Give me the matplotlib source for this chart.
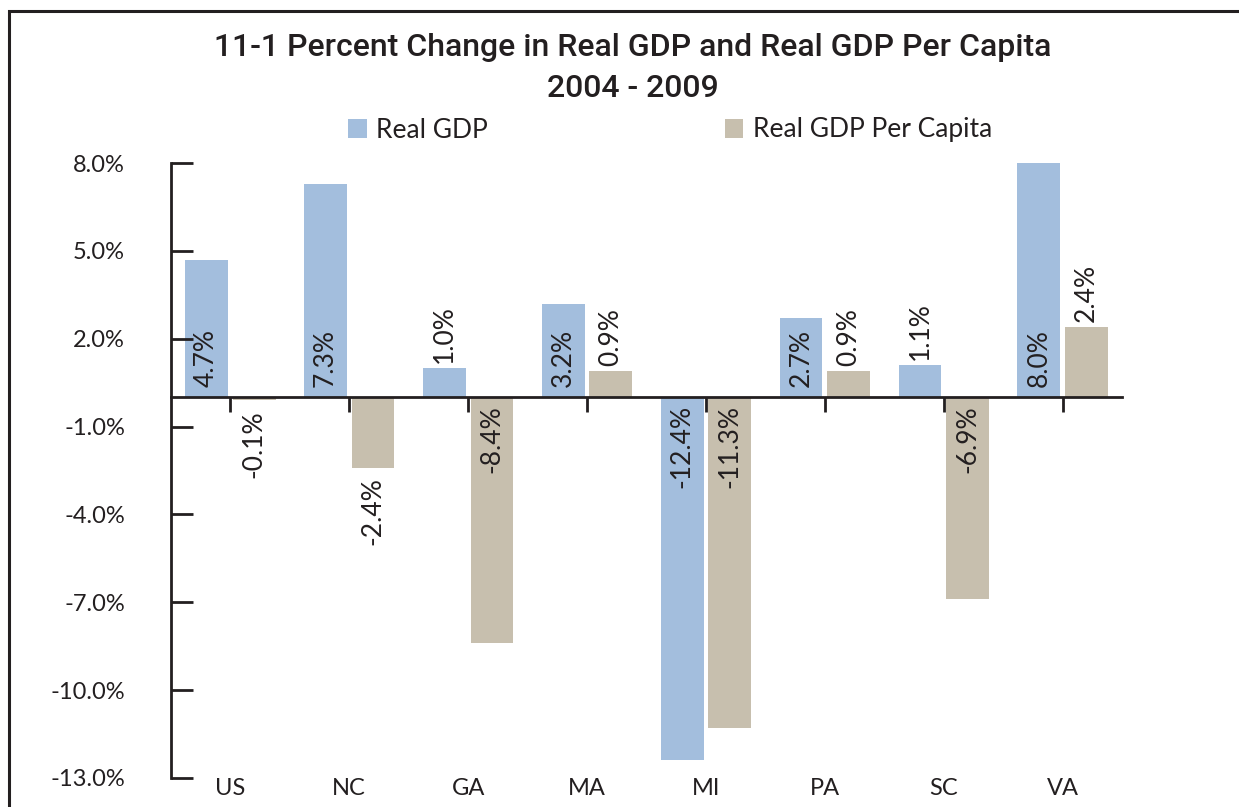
import matplotlib.pyplot as plt
from matplotlib.patches import Rectangle
from matplotlib.ticker import FuncFormatter
import numpy as np

states = ["US", "NC", "GA", "MA", "MI", "PA", "SC", "VA"]
real_gdp = [4.7, 7.3, 1.0, 3.2, -12.4, 2.7, 1.1, 8.0]
per_capita = [-0.1, -2.4, -8.4, 0.9, -11.3, 0.9, -6.9, 2.4]
series_names = ["Real GDP", "Real GDP Per Capita"]
y_ticks = [8.0, 5.0, 2.0, -1.0, -4.0, -7.0, -10.0, -13.0]

blue = "#a3bedd"
tan = "#c7bfae"
ink = "#231f20"

plt.rcParams["font.family"] = ["Lato", "DejaVu Sans"]
plt.rcParams["text.color"] = ink

fig = plt.figure(figsize=(12.39, 8.07), dpi=100)
ax = fig.add_axes([171 / 1239, 1 - 778 / 807, 951 / 1239, 615 / 807])

x = np.arange(len(states))
w = 0.36
off = 0.2

bars1 = ax.bar(x - off, real_gdp, w, color=blue, label=series_names[0])
bars2 = ax.bar(x + off, per_capita, w, color=tan, label=series_names[1])

# value labels: inside base when the bar is long enough, else outside end
for bars, vals in ((bars1, real_gdp), (bars2, per_capita)):
    for b, v in zip(bars, vals):
        cx = b.get_x() + b.get_width() / 2
        if abs(v) >= 2.6:
            anchor = (cx, 0)
            dy = 10 if v > 0 else -8
        else:
            anchor = (cx, v)
            dy = 5 if v > 0 else -10
        ax.annotate(
            f"{v:.1f}%",
            anchor,
            xytext=(0, dy),
            textcoords="offset pixels",
            rotation=90,
            ha="center",
            va="bottom" if v > 0 else "top",
            fontsize=19,
            color=ink,
        )

ax.set_xlim(-0.5, len(states) - 0.5)
ax.set_ylim(-13, 8)
ax.set_yticks(y_ticks)
ax.yaxis.set_major_formatter(FuncFormatter(lambda v, p: f"{v:.1f}%"))

ax.spines["top"].set_visible(False)
ax.spines["right"].set_visible(False)
ax.spines["bottom"].set_position(("data", 0))
for s in ("left", "bottom"):
    ax.spines[s].set_linewidth(2)
    ax.spines[s].set_color(ink)

ax.tick_params(axis="y", direction="in", length=16, width=2, color=ink,
               pad=33, labelsize=17, labelcolor=ink)
ax.set_xticks(x)
ax.set_xticklabels([])
ax.tick_params(axis="x", direction="out", length=11, width=2, color=ink)

for xi, name in zip(x, states):
    ax.annotate(
        name,
        (xi, 0),
        xycoords=ax.get_xaxis_transform(),
        xytext=(0, 0),
        textcoords="offset pixels",
        ha="center",
        va="top",
        fontsize=17,
        color=ink,
    )

fig.text(
    633 / 1239,
    1 - 68 / 807,
    "11-1 Percent Change in Real GDP and Real GDP Per Capita\n2004 - 2009",
    ha="center",
    va="center",
    fontsize=23,
    fontweight="medium",
    family=["Roboto", "Liberation Sans"],
    linespacing=1.5,
)

fig.legend(
    loc="center",
    bbox_to_anchor=(670 / 1239, 1 - 130 / 807),
    ncol=2,
    frameon=False,
    fontsize=19,
    handlelength=0.7,
    handleheight=0.7,
    handletextpad=0.35,
    columnspacing=9,
)

fig.add_artist(
    Rectangle(
        (9 / 1239, -0.1),
        1.2,
        1.1 - 11 / 807,
        transform=fig.transFigure,
        fill=False,
        edgecolor=ink,
        linewidth=2.2,
        clip_on=False,
    )
)

fig.savefig("out.png", dpi=100)
